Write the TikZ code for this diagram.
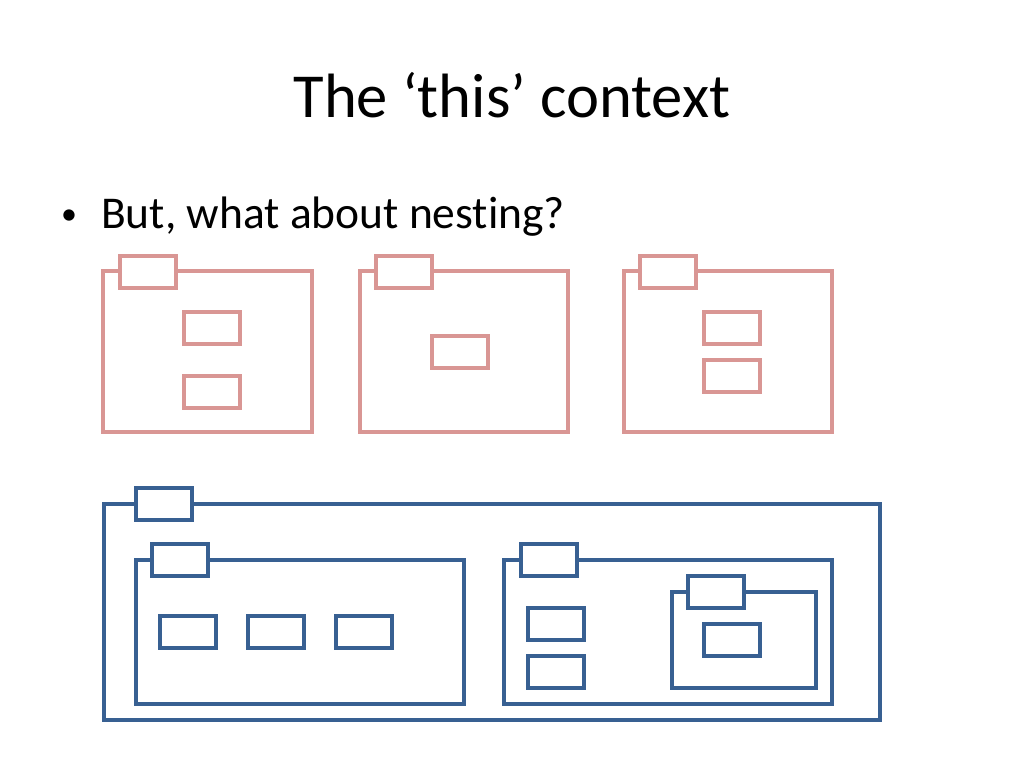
\documentclass[tikz,border=0pt]{standalone}
\usepackage{fontspec}
\setmainfont[Ligatures=NoCommon]{Carlito}
\definecolor{pinkline}{RGB}{217,150,148}
\definecolor{blueline}{RGB}{56,96,146}
\begin{document}
\begin{tikzpicture}[x=1pt,y=-1pt,
  pbox/.style={draw=pinkline,line width=3.2pt,fill=white},
  bbox/.style={draw=blueline,line width=3.2pt,fill=white}]
\useasboundingbox[fill=white] (0,0) rectangle (1024,768);
% title
\node[anchor=base,inner sep=0] (title) at (512,117) {\fontsize{62.6}{70}\selectfont The ‘this’ context};
\node[anchor=base west,inner sep=0] (bullet) at (61,224) {\fontsize{32}{36}\selectfont •};
\node[anchor=base west,inner sep=0] (btext) at (101,228) {\fontsize{45.5}{52}\selectfont But, what about nesting?};
% pink box 1
\draw[pbox] (103,271) rectangle (312,432);
\draw[pbox] (120,256) rectangle (176,288);
\draw[pbox] (184,312) rectangle (240,344);
\draw[pbox] (184,376) rectangle (240,408);
% pink box 2
\draw[pbox] (360,271) rectangle (568,432);
\draw[pbox] (376,256) rectangle (432,288);
\draw[pbox] (432,336) rectangle (488,368);
% pink box 3
\draw[pbox] (624,271) rectangle (832,432);
\draw[pbox] (640,256) rectangle (696,288);
\draw[pbox] (704,312) rectangle (760,344);
\draw[pbox] (704,360) rectangle (760,392);
% blue outer
\draw[bbox] (104,504) rectangle (880,720);
\draw[bbox] (136,488) rectangle (192,520);
% blue inner left
\draw[bbox] (136,560) rectangle (464,704);
\draw[bbox] (152,544) rectangle (208,576);
\draw[bbox] (160,616) rectangle (216,648);
\draw[bbox] (248,616) rectangle (304,648);
\draw[bbox] (336,616) rectangle (392,648);
% blue inner right
\draw[bbox] (504,560) rectangle (832,704);
\draw[bbox] (521,544) rectangle (577,576);
\draw[bbox] (528,608) rectangle (584,640);
\draw[bbox] (528,656) rectangle (584,688);
% nested
\draw[bbox] (672,592) rectangle (816,688);
\draw[bbox] (688,576) rectangle (744,608);
\draw[bbox] (704,624) rectangle (760,656);
\end{tikzpicture}
\end{document}
